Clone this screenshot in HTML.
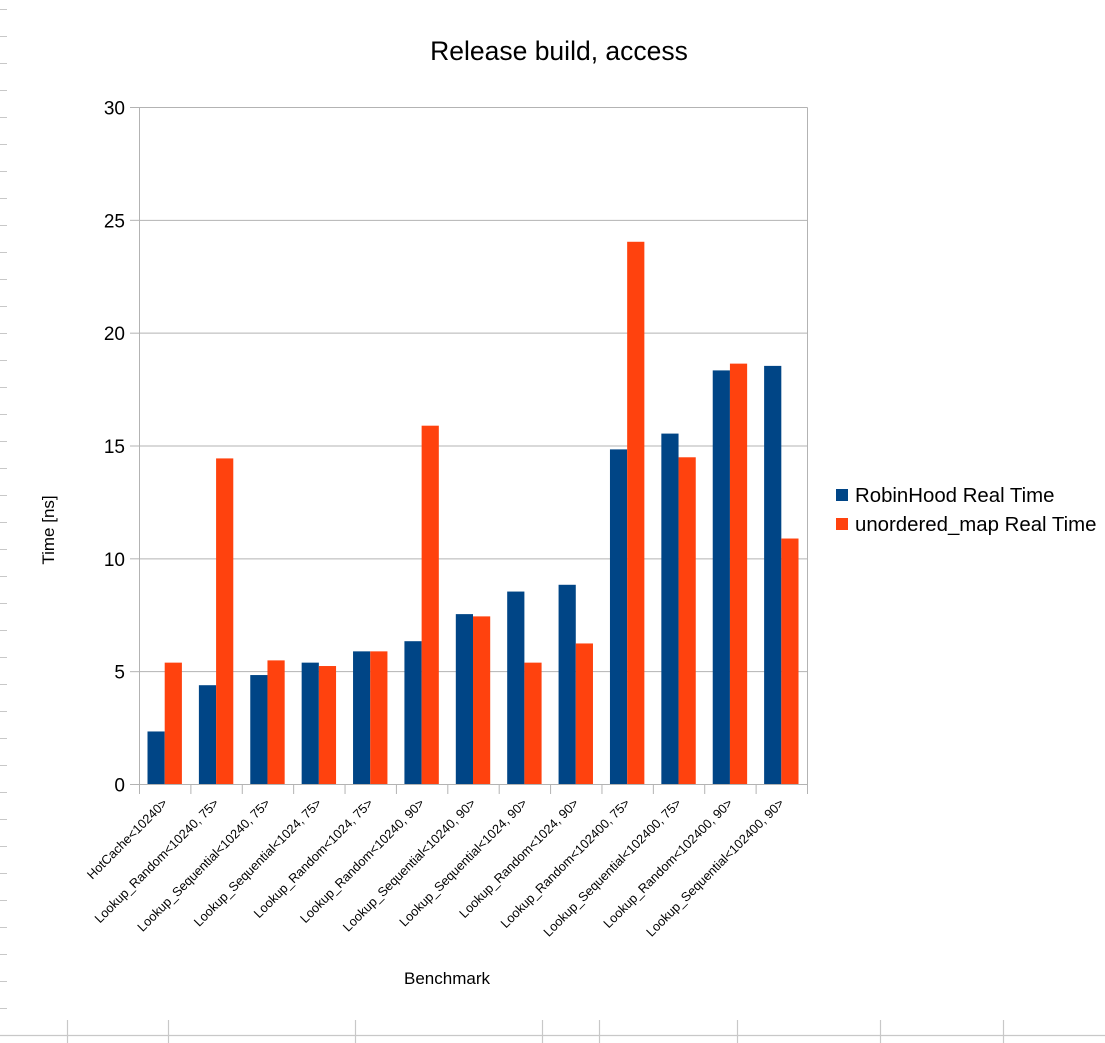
<!DOCTYPE html>
<html><head><meta charset="utf-8"><style>
html,body{margin:0;padding:0;background:#fff;}
svg{display:block;font-family:"Liberation Sans",sans-serif;}
</style></head><body>
<svg width="1105" height="1043" viewBox="0 0 1105 1043" xmlns="http://www.w3.org/2000/svg">
<g stroke="#c8c8c8" stroke-width="1" id="lt"></g>
<g stroke="#c8c8c8" stroke-width="1.2">
<line x1="0" y1="1035.5" x2="1105" y2="1035.5"/>
<line x1="67.5" y1="1020" x2="67.5" y2="1043"/>
<line x1="168.5" y1="1020" x2="168.5" y2="1043"/>
<line x1="355.5" y1="1020" x2="355.5" y2="1043"/>
<line x1="542.5" y1="1020" x2="542.5" y2="1043"/>
<line x1="599.5" y1="1020" x2="599.5" y2="1043"/>
<line x1="737.5" y1="1020" x2="737.5" y2="1043"/>
<line x1="880.5" y1="1020" x2="880.5" y2="1043"/>
<line x1="1003.5" y1="1020" x2="1003.5" y2="1043"/>
</g>
<text x="559" y="60" font-size="26.5" text-anchor="middle">Release build, access</text>
<g id="plot"></g>
<text transform="translate(54,530) rotate(-90)" font-size="17" text-anchor="middle">Time [ns]</text>
<text x="447" y="984" font-size="17" text-anchor="middle">Benchmark</text>
<rect x="836" y="489" width="12" height="12" fill="#004586"/>
<text x="855" y="502" font-size="20.4">RobinHood Real Time</text>
<rect x="836" y="518" width="12" height="12" fill="#ff420e"/>
<text x="855" y="531" font-size="20.4">unordered_map Real Time</text>
<script>
var ns="http://www.w3.org/2000/svg";
function el(p,t,a,txt){var e=document.createElementNS(ns,t);for(var k in a)e.setAttribute(k,a[k]);if(txt)e.textContent=txt;p.appendChild(e);return e;}
var lt=document.getElementById('lt');
for(var y=9;y<1020;y+=27)el(lt,'line',{x1:0,y1:y+.5,x2:7,y2:y+.5});
var g=document.getElementById('plot');
var L=139.5,R=807.5,T=107.5,B=784.5,s=(B-T)/30;
for(var v=5;v<=30;v+=5){var yy=B-v*s;el(g,'line',{x1:L,y1:yy,x2:R,y2:yy,stroke:'#b3b3b3'});}
for(var v=0;v<=30;v+=5){var yy=B-v*s;el(g,'line',{x1:130,y1:yy,x2:L,y2:yy,stroke:'#b3b3b3'});el(g,'text',{x:125,y:yy+7,'font-size':19,'text-anchor':'end'},String(v));}
var blue=[2.35,4.4,4.85,5.4,5.9,6.35,7.55,8.55,8.85,14.85,15.55,18.35,18.55];
var red=[5.4,14.45,5.5,5.25,5.9,15.9,7.45,5.4,6.25,24.05,14.5,18.65,10.9];
var labels=["HotCache<10240>","Lookup_Random<10240, 75>","Lookup_Sequential<10240, 75>","Lookup_Sequential<1024, 75>","Lookup_Random<1024, 75>","Lookup_Random<10240, 90>","Lookup_Sequential<10240, 90>","Lookup_Sequential<1024, 90>","Lookup_Random<1024, 90>","Lookup_Random<102400, 75>","Lookup_Sequential<102400, 75>","Lookup_Random<102400, 90>","Lookup_Sequential<102400, 90>"];
var w=(R-L)/13;
for(var i=0;i<13;i++){var x0=L+i*w;
el(g,'rect',{x:x0+8,y:B-blue[i]*s,width:17.2,height:blue[i]*s,fill:'#004586'});
el(g,'rect',{x:x0+25.2,y:B-red[i]*s,width:17.2,height:red[i]*s,fill:'#ff420e'});
var cx=x0+w/2+3;
el(g,'text',{transform:'translate('+cx+',804) rotate(-45)','font-size':12.8,'text-anchor':'end'},labels[i]);}
for(var i=0;i<=13;i++){var xx=L+i*w;el(g,'line',{x1:xx,y1:B,x2:xx,y2:794,stroke:'#b3b3b3'});}
el(g,'line',{x1:L,y1:T,x2:L,y2:B,stroke:'#b3b3b3'});
el(g,'line',{x1:R,y1:T,x2:R,y2:B,stroke:'#b3b3b3'});
el(g,'line',{x1:L,y1:B,x2:R,y2:B,stroke:'#b3b3b3'});
</script>
</svg>
</body></html>
